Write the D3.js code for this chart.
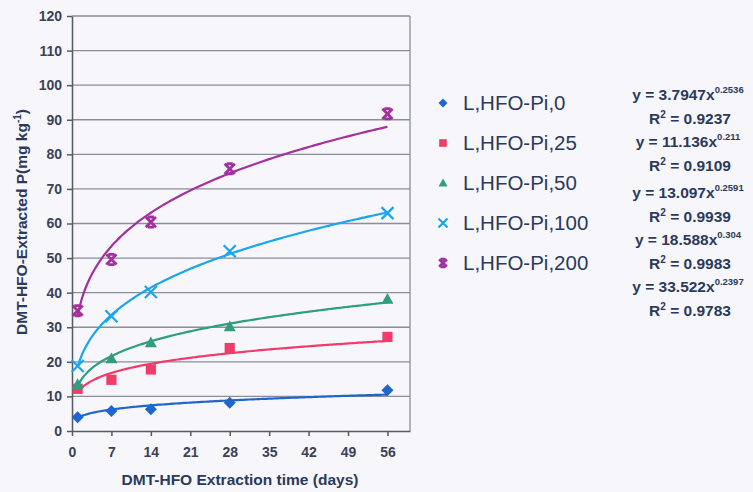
<!DOCTYPE html>
<html>
  <head>
    <title>DMT-HFO extraction</title>
    <style>
      body { margin: 0; background: #f6f6fb; }
      text { font-family: Arial, "Liberation Sans", sans-serif; }
      .axis path, .axis line { stroke: #555a66; }
      .axis text { font-size: 14px; font-weight: bold; fill: #3c4254; }
    </style>
  </head>

  <body>
    <div id="chart"></div>

    <script src="https://cdn.jsdelivr.net/npm/d3@7/dist/d3.min.js" type="text/javascript"></script>

<script>

  // extraction days
  var days = [1, 7, 14, 28, 56];

  var seriesNames = ["L,HFO-Pi,0", "L,HFO-Pi,25", "L,HFO-Pi,50", "L,HFO-Pi,100", "L,HFO-Pi,200"];

  var pi0   = [4.0, 5.8, 6.3, 8.2, 11.8];
  var pi25  = [12.2, 14.8, 17.8, 24.0, 27.2];
  var pi50  = [13.5, 21.0, 25.6, 30.2, 38.2];
  var pi100 = [18.8, 33.2, 40.2, 52.0, 63.0];
  var pi200 = [34.8, 49.6, 60.4, 75.8, 91.7];

  // power trendline coefficients, y = a * x^b
  var coefA = [3.7947, 11.136, 13.097, 18.588, 33.522];
  var coefB = [0.2536, 0.211, 0.2591, 0.304, 0.2397];
  var expLabels = ["0.2536", "0.211", "0.2591", "0.304", "0.2397"];
  var r2Labels = ["0.9237", "0.9109", "0.9939", "0.9983", "0.9783"];

  var xTicks = [0, 7, 14, 21, 28, 35, 42, 49, 56];
  var yTicks = d3.range(0, 121, 10);

  var colors = ["#1f66cc", "#f03c6a", "#2f9e80", "#1aa6ec", "#a4309e"];
  var shapes = ["diamond", "square", "triangle", "cross", "star"];

  var values = [pi0, pi25, pi50, pi100, pi200];

  var margin = {top: 16, right: 343, bottom: 61, left: 72},
    width = 753 - margin.left - margin.right,
    height = 492 - margin.top - margin.bottom;

  var svg = d3.select('#chart')
    .append('svg')
    .attr("width", 753)
    .attr("height", 492);

  svg.append("rect").attr("width", 753).attr("height", 492).attr("fill", "#f6f6fb");

  var g = svg.append("g")
    .attr("transform", "translate(" + margin.left + "," + margin.top + ")");

  var x = d3.scaleLinear()
    .range([0, width])
    .domain([0, 60]);

  var y = d3.scaleLinear()
    .range([height, 0])
    .domain([0, 120]);

  // gridlines
  g.append("g")
    .selectAll("line")
    .data(yTicks.filter(function(d){ return d > 0; }))
    .enter()
    .append("line")
    .attr("x1", 0)
    .attr("x2", width)
    .attr("y1", function(d){ return y(d); })
    .attr("y2", function(d){ return y(d); })
    .attr("stroke", "#8a8e9a")
    .attr("stroke-width", 1.3);

  g.append("line")
    .attr("x1", width).attr("x2", width)
    .attr("y1", 0).attr("y2", height)
    .attr("stroke", "#8a8e9a")
    .attr("stroke-width", 1.3);

  g.append("g")
    .attr("class", "axis axis--x")
    .attr("transform", "translate(0," + height + ")")
    .call(d3.axisBottom(x).tickValues(xTicks).tickSize(5).tickSizeOuter(0).tickPadding(11))
    .selectAll("path, line").attr("stroke-width", 1.5);

  g.append("g")
    .attr("class", "axis axis--y")
    .call(d3.axisLeft(y).tickValues(yTicks).tickSize(5).tickSizeOuter(0).tickPadding(5))
    .selectAll("path, line").attr("stroke-width", 1.5);

  // trendlines
  var line = d3.line()
    .x(function(d){ return x(d[0]); })
    .y(function(d){ return y(d[1]); })
    .curve(d3.curveBasis);

  values.forEach(function(v, i) {
    var pts = d3.range(1, 56.01, 0.5).map(function(t){
      return [t, coefA[i] * Math.pow(t, coefB[i])];
    });
    g.append("path")
      .attr("d", line(pts))
      .attr("fill", "none")
      .attr("stroke", colors[i])
      .attr("stroke-width", 2.2);
  });

  function drawMarker(sel, shape, color, s) {
    if (shape === "diamond") {
      sel.append("path").attr("d", "M0," + (-s) + "L" + s + ",0L0," + s + "L" + (-s) + ",0Z").attr("fill", color);
    } else if (shape === "square") {
      sel.append("rect").attr("x", -s * 0.85).attr("y", -s * 0.85).attr("width", s * 1.7).attr("height", s * 1.7).attr("fill", color);
    } else if (shape === "triangle") {
      sel.append("path").attr("d", "M0," + (-s) + "L" + s + "," + (s * 0.8) + "L" + (-s) + "," + (s * 0.8) + "Z").attr("fill", color);
    } else if (shape === "cross") {
      sel.append("path").attr("d", "M" + (-s) + "," + (-s) + "L" + s + "," + s + "M" + s + "," + (-s) + "L" + (-s) + "," + s)
        .attr("stroke", color).attr("stroke-width", 2.2).attr("fill", "none");
    } else {
      var k = s * 0.85;
      sel.append("path").attr("d", "M" + (-k) + "," + (-k) + "L" + k + "," + k + "M" + k + "," + (-k) + "L" + (-k) + "," + k +
          "M" + (-k * 0.6) + "," + (-k) + "H" + (k * 0.6) + "M" + (-k * 0.6) + "," + k + "H" + (k * 0.6))
        .attr("stroke", color).attr("stroke-width", 2.8).attr("fill", "none");
    }
  }

  values.forEach(function(v, i) {
    g.append("g").selectAll("g")
      .data(v)
      .enter()
      .append("g")
      .attr("transform", function(d, j){ return "translate(" + x(days[j]) + "," + y(d) + ")"; })
      .each(function(){ drawMarker(d3.select(this), shapes[i], colors[i], 6); });
  });

  // axis titles
  svg.append("text")
    .attr("transform", "translate(27," + 222 + ") rotate(-90)")
    .attr("text-anchor", "middle")
    .style("font-size", "15.5px")
    .style("font-weight", "bold")
    .attr("fill", "#2b3a5c")
    .text("DMT-HFO-Extracted P(mg kg")
    .append("tspan").attr("dy", -6).style("font-size", "10px").text("-1")
    .select(function(){ return this.parentNode; })
    .append("tspan").attr("dy", 6).text(")");

  svg.append("text")
    .attr("x", 240)
    .attr("y", 485)
    .attr("text-anchor", "middle")
    .style("font-size", "15.5px")
    .style("font-weight", "bold")
    .attr("fill", "#2b3a5c")
    .text("DMT-HFO Extraction time (days)");

  // legend
  var legend = svg.append("g");
  seriesNames.forEach(function(name, i) {
    var ly = 103 + i * 40;
    var mk = legend.append("g").attr("transform", "translate(443," + ly + ")");
    drawMarker(mk, shapes[i], colors[i], 4.5);
    legend.append("text")
      .attr("x", 463)
      .attr("y", ly + 7)
      .style("font-size", "20.5px")
      .attr("fill", "#2b3a5c")
      .text(name);
  });

  // equations
  var eqY = [95, 142, 193, 240, 287];
  var eq = svg.append("g").attr("fill", "#2b3a5c").style("font-weight", "bold");
  coefA.forEach(function(a, i) {
    var t = eq.append("text")
      .attr("x", 688)
      .attr("y", eqY[i] + 5)
      .attr("text-anchor", "middle")
      .style("font-size", "15.5px")
      .text("y = " + a + "x");
    t.append("tspan").attr("dy", -7).style("font-size", "9.5px").text(expLabels[i]);

    var r = eq.append("text")
      .attr("x", 690)
      .attr("y", eqY[i] + 29)
      .attr("text-anchor", "middle")
      .style("font-size", "15.5px")
      .text("R");
    r.append("tspan").attr("dy", -6).style("font-size", "10px").text("2");
    r.append("tspan").attr("dy", 6).text(" = " + r2Labels[i]);
  });

</script>
  </body>
</html>
